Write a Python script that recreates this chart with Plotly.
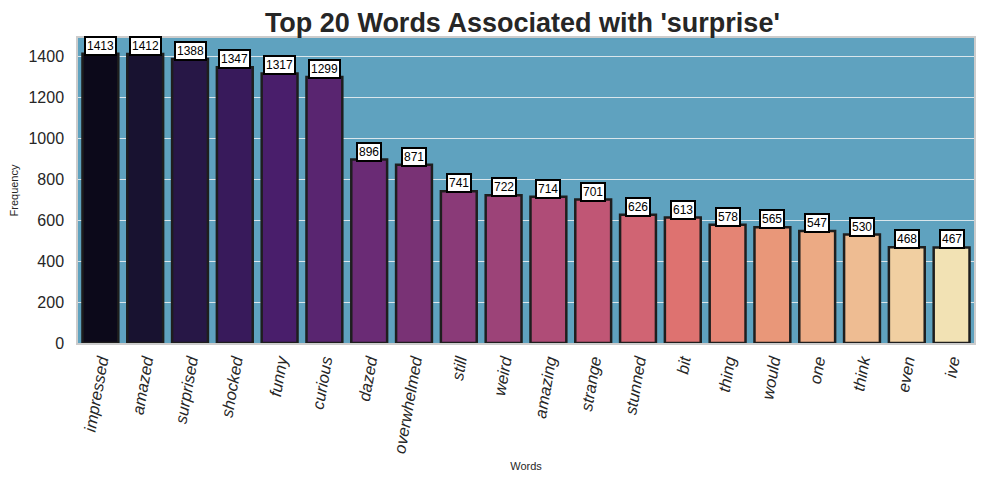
import colorsys
import plotly.graph_objects as go
from plotly.colors import sample_colorscale, sequential

# Word frequencies
words = ["impressed", "amazed", "surprised", "shocked", "funny", "curious", "dazed",
         "overwhelmed", "still", "weird", "amazing", "strange", "stunned", "bit",
         "thing", "would", "one", "think", "even", "ive"]
counts = [1413, 1412, 1388, 1347, 1317, 1299, 896, 871, 741, 722, 714, 701,
          626, 613, 578, 565, 547, 530, 468, 467]

# magma palette like seaborn, with its 0.75 desaturation
n = len(words)
positions = [(i + 1) / (n + 1) for i in range(n)]
raw = sample_colorscale(sequential.Magma, positions, colortype="tuple")
colors = []
for r, g, b in raw:
    if r > 1 or g > 1 or b > 1:
        r, g, b = r / 255, g / 255, b / 255
    h, l, s = colorsys.rgb_to_hls(r, g, b)
    r, g, b = colorsys.hls_to_rgb(h, l, s * 0.75)
    colors.append(f"rgb({r*255:.0f},{g*255:.0f},{b*255:.0f})")

fig = go.Figure()
fig.add_trace(go.Bar(
    x=words,
    y=counts,
    marker=dict(color=colors, line=dict(color="#1e1e1e", width=2.5)),
    hoverinfo="x+y",
))

for w, c in zip(words, counts):
    fig.add_annotation(
        x=w, y=c, text=str(c), showarrow=False,
        yanchor="bottom", yshift=-2,
        font=dict(family="Liberation Sans, Arial", size=12, color="black"),
        bgcolor="white", bordercolor="black", borderwidth=2, borderpad=1,
    )

# page body has an 8px margin, so the figure is sized to fit inside it
fig.update_layout(
    width=976, height=476,
    margin=dict(l=70, r=10, t=30, b=141),
    paper_bgcolor="white",
    plot_bgcolor="#5fa2bf",
    bargap=0.2,
    showlegend=False,
    font=dict(family="Liberation Sans, Arial", color="#262626"),
    title=dict(
        text="<b>Top 20 Words Associated with 'surprise'</b>",
        x=0.527, xanchor="center", y=0.97, yanchor="middle",
        font=dict(size=27, color="#262626"),
        automargin=False,
    ),
)
fig.update_xaxes(
    title=dict(text="Words", font=dict(size=11), standoff=8),
    tickangle=-80,
    tickfont=dict(size=16.5, style="italic"),
    showgrid=False,
    showline=True, linecolor="#cccccc", linewidth=1.5, mirror=True,
    ticks="", ticklen=0,
    automargin=False,
)
fig.update_yaxes(
    title=dict(text="Frequency", font=dict(size=11), standoff=15),
    range=[0, 1490],
    dtick=200,
    tickfont=dict(size=16),
    ticklabelstandoff=9,
    showgrid=True, gridcolor="#d9e6ec", gridwidth=1,
    zeroline=False,
    showline=True, linecolor="#cccccc", linewidth=1.5, mirror=True,
    ticks="", ticklen=0,
    automargin=False,
)

fig.write_html("out.html")
